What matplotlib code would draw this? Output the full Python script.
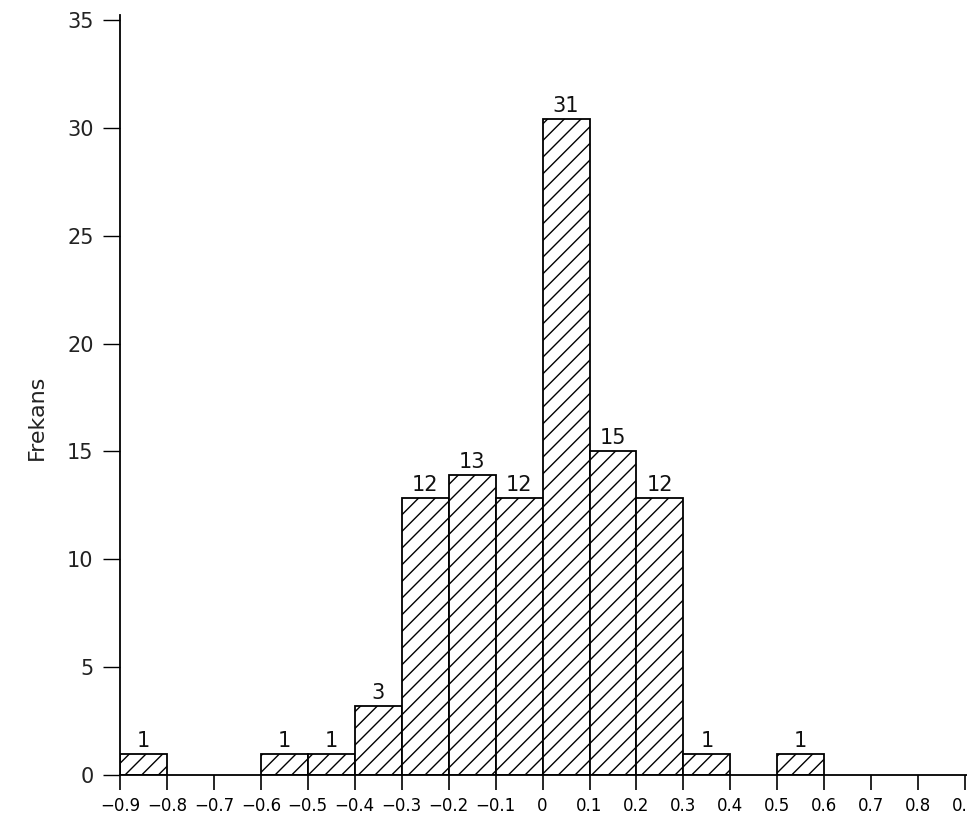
import matplotlib
matplotlib.use("Agg")
import matplotlib.pyplot as plt
import numpy as np

# bin edges of the histogram
bin_left = [-0.9, -0.8, -0.7, -0.6, -0.5, -0.4, -0.3, -0.2, -0.1, 0.0, 0.1, 0.2, 0.3, 0.4, 0.5]
# counts printed above the bars
counts = [1, 0, 0, 1, 1, 3, 12, 13, 12, 31, 15, 12, 1, 0, 1]
# bar heights as drawn in the picture
heights = [0.97, 0, 0, 0.97, 0.97, 3.2, 12.85, 13.9, 12.85, 30.4, 15.0, 12.85, 0.97, 0, 0.97]
x_ticks = [-0.9, -0.8, -0.7, -0.6, -0.5, -0.4, -0.3, -0.2, -0.1, 0.0, 0.1, 0.2, 0.3, 0.4, 0.5, 0.6, 0.7, 0.8, 0.9]
x_ticklabels = ["\u22120.9", "\u22120.8", "\u22120.7", "\u22120.6", "\u22120.5", "\u22120.4", "\u22120.3",
                "\u22120.2", "\u22120.1", "0", "0.1", "0.2", "0.3", "0.4", "0.5", "0.6", "0.7", "0.8", "0.9"]
y_ticks = [0, 5, 10, 15, 20, 25, 30, 35]
y_label = "Frekans"

plt.rcParams['font.family'] = ['DejaVu Sans']
plt.rcParams['hatch.linewidth'] = 1.0

fig = plt.figure(figsize=(9.67, 8.19), dpi=100)
ax = fig.add_axes([120/967, 1 - 775/819, 1 - 120/967, (775 - 15)/819])

width = 0.1
for xl, h, c in zip(bin_left, heights, counts):
    if c == 0:
        continue
    ax.bar(xl, h, width=width, align='edge', facecolor='white', edgecolor='black',
           linewidth=1.3, hatch='//', zorder=2)
    ax.text(xl + width/2, h + 0.15, str(c), ha='center', va='bottom', fontsize=15,
            color='#111111')

ax.set_xlim(-0.9, 0.904)
ax.set_ylim(0, 35.23)
ax.set_xticks(x_ticks)
ax.set_xticklabels(x_ticklabels)
ax.set_yticks(y_ticks)
ax.set_yticklabels([str(v) for v in y_ticks])

for s in ['top', 'right']:
    ax.spines[s].set_visible(False)
ax.spines['left'].set_linewidth(1.3)
ax.spines['bottom'].set_linewidth(1.3)

ax.tick_params(axis='x', direction='out', length=11, width=1.2, pad=5, labelsize=12, colors='black')
ax.tick_params(axis='y', direction='out', length=12, width=1.0, pad=7, labelsize=15,
               colors='black', labelcolor='#222222')
ax.set_ylabel(y_label, fontsize=16, color='#222222')
ax.yaxis.set_label_coords(-0.086, 0.47)

fig.savefig("out.png", dpi=100, facecolor='white')
